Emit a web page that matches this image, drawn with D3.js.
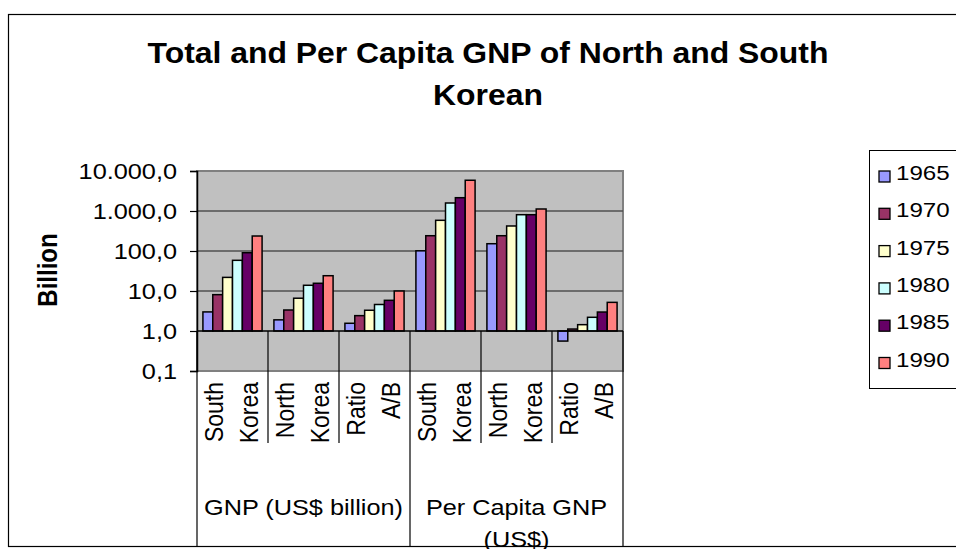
<!DOCTYPE html>
<html>
<head>
<meta charset="utf-8">
<script src="https://cdn.jsdelivr.net/npm/d3@7"></script>
<style>
body { margin: 0; background: #fff; }
text { font-family: Arial, "Liberation Sans", sans-serif; fill: #000; }
</style>
</head>
<body>
<div id="chart"></div>
<script>
const years = ["1965", "1970", "1975", "1980", "1985", "1990"];
const categories = [["South", "Korea"], ["North", "Korea"], ["Ratio", "A/B"],
                    ["South", "Korea"], ["North", "Korea"], ["Ratio", "A/B"]];
const groups = [["GNP (US$ billion)"], ["Per Capita GNP", "(US$)"]];
const v1965 = [3.0, 1.9, 1.56, 101, 152, 0.56];
const v1970 = [8.1, 3.35, 2.42, 241, 241, 1.12];
const v1975 = [21.9, 6.6, 3.3, 585, 422, 1.44];
const v1980 = [58.5, 13.9, 4.6, 1585, 808, 2.2];
const v1985 = [90.6, 15.6, 5.85, 2150, 808, 2.98];
const v1990 = [237, 24.1, 10.0, 5870, 1122, 5.2];
const series = [v1965, v1970, v1975, v1980, v1985, v1990];
const colors = ["#9999ff", "#993366", "#ffffcc", "#ccffff", "#660066", "#ff8080"];
const yTicks = [0.1, 1, 10, 100, 1000, 10000];

const width = 956, height = 549;
const plot = {left: 197, right: 623, top: 171, bottom: 371};
const sx = 1.15; // the picture is a bit wider than tall

let svg = d3.select("#chart")
  .append("svg")
    .attr("width", width)
    .attr("height", height);

// chart area border
svg.append("rect")
  .attr("x", 8.5).attr("y", 14.5)
  .attr("width", 970).attr("height", 532)
  .attr("fill", "#fff").attr("stroke", "#000").attr("stroke-width", 1.2);

let y = d3.scaleLog().domain([0.1, 10000]).range([plot.bottom, plot.top]);
let x = d3.scaleBand().domain(d3.range(categories.length)).range([plot.left, plot.right]);
let xi = d3.scaleBand().domain(years).range([0, x.bandwidth()]).paddingOuter(0.6);

let de = d3.formatLocale({decimal: ",", thousands: ".", grouping: [3], currency: ["", ""]});
let fmt = de.format(",.1f");

// plot area
svg.append("rect")
  .attr("x", plot.left).attr("y", plot.top)
  .attr("width", plot.right - plot.left).attr("height", plot.bottom - plot.top)
  .attr("fill", "#c0c0c0").attr("stroke", "#808080").attr("stroke-width", 2);

svg.selectAll(".grid")
  .data(yTicks.filter(d => d !== 1 && d !== 0.1 && d !== 10000))
  .enter()
  .append("line")
    .attr("x1", plot.left).attr("x2", plot.right)
    .attr("y1", d => y(d)).attr("y2", d => y(d))
    .attr("stroke", "#505050").attr("stroke-width", 1.3);

// bars
let bars = svg.append("g");
series.forEach((vals, si) => {
  bars.selectAll(".s" + si)
    .data(vals)
    .enter()
    .append("rect")
      .attr("x", (d, i) => x(i) + xi(years[si]))
      .attr("y", d => Math.min(y(d), y(1)))
      .attr("width", xi.bandwidth())
      .attr("height", d => Math.abs(y(d) - y(1)))
      .attr("fill", colors[si])
      .attr("stroke", "#000")
      .attr("stroke-width", 1.5);
});

// category axis (crosses at 1)
svg.append("line")
  .attr("x1", plot.left).attr("x2", plot.right)
  .attr("y1", y(1)).attr("y2", y(1))
  .attr("stroke", "#000").attr("stroke-width", 1.5);

// category dividers
d3.range(categories.length + 1).forEach(i => {
  let xx = i < categories.length ? x(i) : plot.right;
  let outer = i % 3 === 0;
  svg.append("line")
    .attr("x1", xx).attr("x2", xx)
    .attr("y1", y(1)).attr("y2", outer ? 547 : 443)
    .attr("stroke", "#000").attr("stroke-width", 1.2);
});

// y axis
let yAxis = svg.append("g")
  .attr("transform", `translate(${plot.left},0)`)
  .call(d3.axisLeft(y).tickValues(yTicks).tickFormat(fmt).tickSize(7).tickPadding(13));
yAxis.select(".domain").attr("stroke", "#000").attr("stroke-width", 1.5);
yAxis.selectAll(".tick line").attr("stroke", "#000").attr("stroke-width", 1.2);
yAxis.selectAll(".tick text")
  .attr("font-size", "22px")
  .attr("font-family", null)
  .attr("x", -20 / sx)
  .attr("transform", `scale(${sx},1)`);

// category labels, rotated
categories.forEach((lines, i) => {
  let c = x(i) + x.bandwidth() / 2;
  lines.forEach((t, k) => {
    svg.append("text")
      .attr("transform", `translate(${c - 10 + k * 35},382) scale(${sx},1) rotate(-90)`)
      .attr("text-anchor", "end")
      .attr("font-size", "23px")
      .text(t);
  });
});

// group labels
groups.forEach((lines, g) => {
  let c = (x(g * 3) + (g === 1 ? plot.right : x(3))) / 2;
  lines.forEach((t, k) => {
    svg.append("text")
      .attr("transform", `translate(${c},${515 + k * 32}) scale(${sx},1)`)
      .attr("text-anchor", "middle")
      .attr("font-size", "22px")
      .text(t);
  });
});

// redraw bottom border over the cut text
svg.append("line")
  .attr("x1", 8).attr("x2", width)
  .attr("y1", 546.5).attr("y2", 546.5)
  .attr("stroke", "#000").attr("stroke-width", 1.2);

// title
["Total and Per Capita GNP of North and South", "Korean"].forEach((t, k) => {
  svg.append("text")
    .attr("transform", `translate(488,${63 + k * 42}) scale(1.1,1)`)
    .attr("text-anchor", "middle")
    .attr("font-size", "29px")
    .attr("font-weight", "bold")
    .text(t);
});

// y axis title
svg.append("text")
  .attr("transform", `translate(57,270) scale(${sx},1) rotate(-90)`)
  .attr("text-anchor", "middle")
  .attr("font-size", "24px")
  .attr("font-weight", "bold")
  .text("Billion");

// legend
svg.append("rect")
  .attr("x", 869.5).attr("y", 150.5)
  .attr("width", 120).attr("height", 238)
  .attr("fill", "#fff").attr("stroke", "#000").attr("stroke-width", 1);

let legend = svg.selectAll(".legend")
  .data(years)
  .enter()
  .append("g")
    .attr("transform", (d, i) => `translate(0,${172.5 + i * 37.3})`);
legend.append("rect")
  .attr("x", 879).attr("y", -1.5)
  .attr("width", 11).attr("height", 11)
  .attr("fill", (d, i) => colors[i])
  .attr("stroke", "#000").attr("stroke-width", 1.3);
legend.append("text")
  .attr("transform", `translate(896,0) scale(${sx},1)`)
  .attr("dy", "0.36em")
  .attr("font-size", "21px")
  .text(d => d);
</script>
</body>
</html>
